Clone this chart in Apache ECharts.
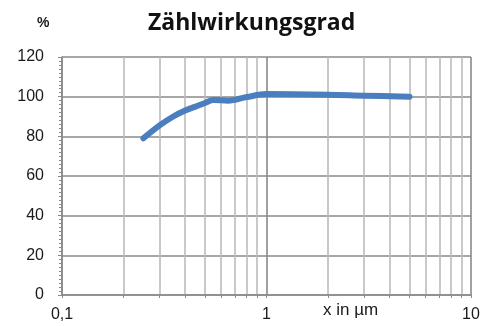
<!DOCTYPE html>
<html><head><meta charset="utf-8">
<script src="https://cdn.jsdelivr.net/npm/echarts@6/dist/echarts.min.js"></script>
<style>html,body{margin:0;padding:0;background:#fff}#c{width:483px;height:326px}</style>
</head><body><div id="c"></div>
<script>
const xValues = [0.25, 0.3, 0.35, 0.4, 0.45, 0.5, 0.55, 0.65, 0.8, 1, 2, 3, 5];
const yValues = [79, 85.5, 90, 93, 95, 96.8, 98.3, 98, 99.8, 101.3, 101, 100.5, 100];
const xTickValues = [0.1,0.2,0.3,0.4,0.5,0.6,0.7,0.8,0.9,1,2,3,4,5,6,7,8,9,10];
const xLabelValues = [0.1, 1, 10];
const yTicks = [0, 20, 40, 60, 80, 100, 120];

const chart = echarts.init(document.getElementById('c'), null, {renderer: 'canvas'});
const gridColors = ['#8a8a8a','#bcbcbc','#bcbcbc','#bcbcbc','#bcbcbc','#bcbcbc','#bcbcbc','#bcbcbc','#bcbcbc'];
chart.setOption({
  animation: false,
  title: {
    text: 'Zählwirkungsgrad', left: 143, top: 7,
    textStyle: {fontFamily: 'Open Sans', fontWeight: 'bold', fontSize: 23, color: '#111'}
  },
  grid: {left: 62, right: 12, top: 57, bottom: 31, containLabel: false},
  xAxis: {
    type: 'log', logBase: 10, min: 0.1, max: 10,
    axisLine: {show: true, lineStyle: {color: '#8a8a8a', width: 1.5}},
    axisTick: {show: true, customValues: xTickValues, length: 3, inside: false, lineStyle: {color: '#8a8a8a'}},
    axisLabel: {customValues: xLabelValues, margin: 12, fontFamily: 'Liberation Sans', fontSize: 16, color: '#1a1a1a',
      formatter: v => String(v).replace('.', ',')},
    splitLine: {show: true, lineStyle: {color: gridColors, width: 1.6}},
    minorTick: {show: false}, minorSplitLine: {show: false}
  },
  yAxis: {
    type: 'value', min: 0, max: 120, interval: 20,
    axisLine: {show: true, lineStyle: {color: '#8a8a8a', width: 1.5}},
    axisTick: {show: true, length: 4, lineStyle: {color: '#8a8a8a'}},
    minorTick: {show: true, splitNumber: 10, length: 3, lineStyle: {color: '#8a8a8a'}},
    axisLabel: {margin: 18, fontFamily: 'Liberation Sans', fontSize: 16, color: '#1a1a1a',
      customValues: yTicks},
    splitLine: {show: true, lineStyle: {color: '#8a8a8a', width: 1.6}}
  },
  graphic: [
    {type: 'text', left: 37, top: 16, style: {text: '%', fontFamily: 'Liberation Sans', fontWeight: 'bold', fontSize: 14, fill: '#1a1a1a'}},
    {type: 'text', left: 323, top: 302, style: {text: 'x in µm', fontFamily: 'Liberation Sans', fontSize: 17, fill: '#1a1a1a'}}
  ],
  series: [{
    type: 'line', data: xValues.map((x, i) => [x, yValues[i]]),
    showSymbol: false, smooth: 0.35,
    lineStyle: {color: '#4a7ebf', width: 6, cap: 'round', join: 'round'}
  }]
});
</script></body></html>
